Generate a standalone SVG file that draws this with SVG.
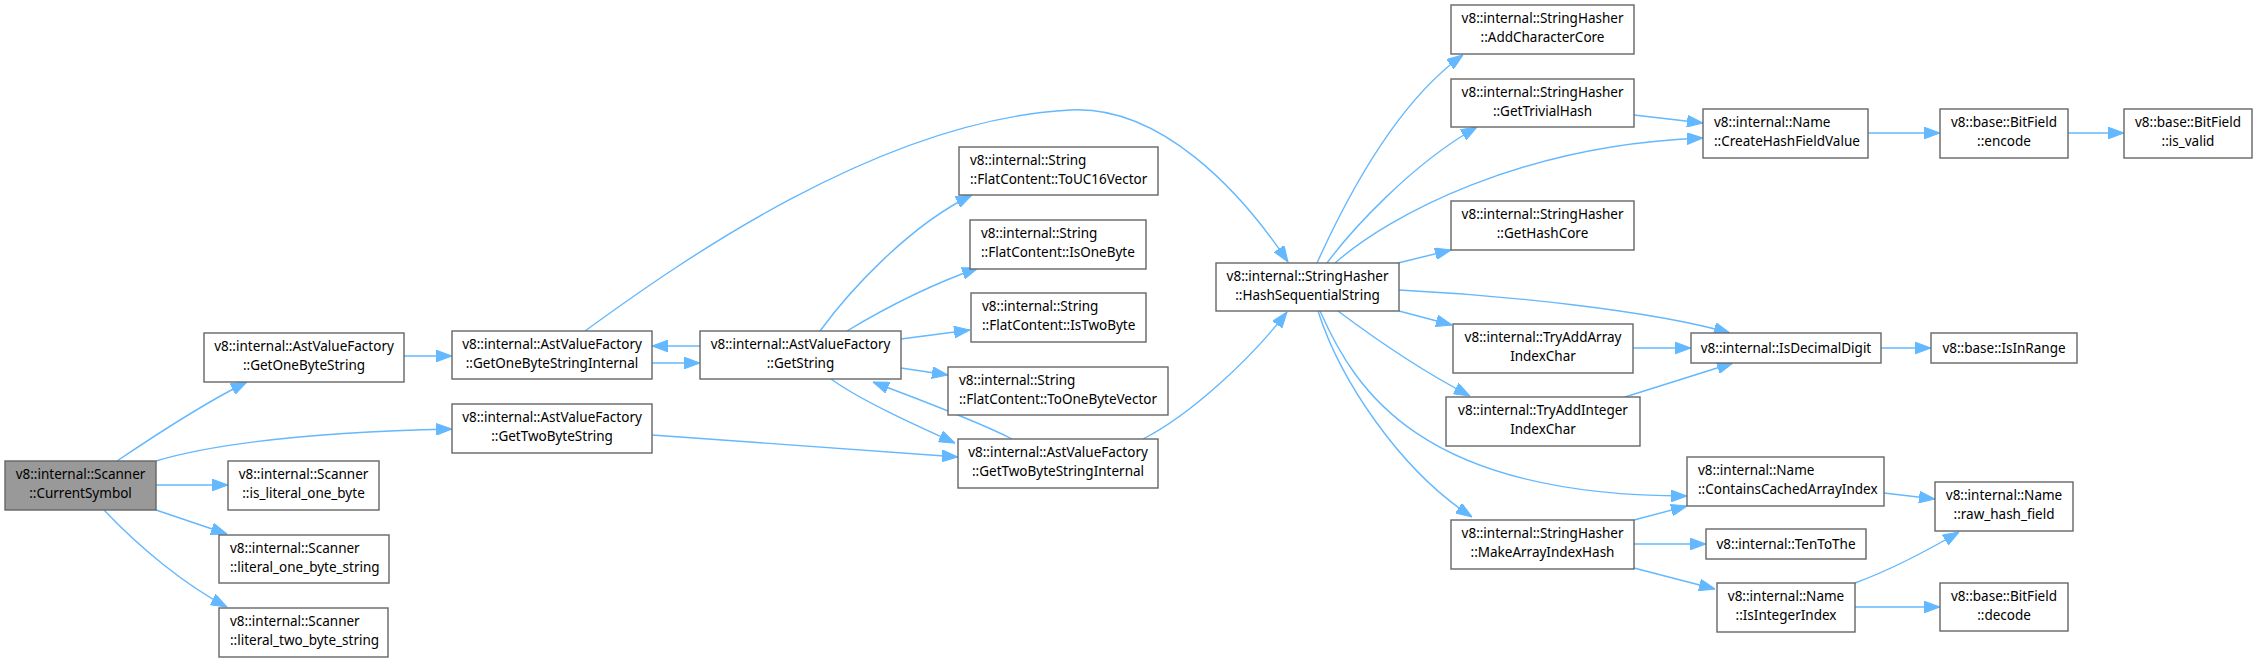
<svg xmlns="http://www.w3.org/2000/svg" width="2257" height="662" viewBox="0 0 2257 662">
<style>
.n rect{fill:#ffffff;stroke:#666666;stroke-width:1.4}
.root rect{fill:#999999;stroke:#666666;stroke-width:1.4}
text{font-family:"Noto Sans","Open Sans","DejaVu Sans",sans-serif;font-size:13.5px;fill:#000000}
.c{text-anchor:middle}
.l{text-anchor:start}
#edges path{fill:none;stroke:#63b8ff;stroke-width:1.4;marker-end:url(#ah)}
</style>
<defs>
<marker id="ah" markerUnits="userSpaceOnUse" markerWidth="16" markerHeight="12" viewBox="0 0 15 11" refX="15" refY="5.5" orient="auto">
<path d="M0,0 L15,5.5 L0,11 z" fill="#63b8ff" stroke="#63b8ff" stroke-width="1"/>
</marker>
</defs>
<rect width="2257" height="662" fill="#ffffff"/>
<g id="edges">
<path d="M117,461 C160,432 210,400 247,382"/>
<path d="M156,461 C220,442 320,432 452,429"/>
<path d="M156,485 L228,485"/>
<path d="M156,510 L227,534"/>
<path d="M104,510 C140,548 185,585 227,607"/>
<path d="M404,356 L452,356"/>
<path d="M652,363 L700,363"/>
<path d="M700,346 L652,346"/>
<path d="M820,331 C850,290 910,225 972,195"/>
<path d="M847,331 C890,305 930,285 978,268"/>
<path d="M901,339 L970,330"/>
<path d="M901,368 L948,375"/>
<path d="M831,379 C860,400 915,425 955,443"/>
<path d="M1012,439 C975,420 920,400 873,382"/>
<path d="M652,435 L958,457"/>
<path d="M1143,439 C1190,415 1250,360 1287,312"/>
<path d="M585,331 C680,262 880,120 1070,110 C1160,105 1240,190 1288,262"/>
<path d="M1317,263 C1350,190 1400,100 1463,55"/>
<path d="M1327,263 C1350,232 1410,165 1477,127"/>
<path d="M1335,263 C1390,215 1520,145 1703,138"/>
<path d="M1398,263 L1451,250"/>
<path d="M1634,115 L1703,123"/>
<path d="M1868,133 L1940,133"/>
<path d="M2068,133 L2124,133"/>
<path d="M1399,290 C1500,295 1650,310 1730,333"/>
<path d="M1399,311 L1452,325"/>
<path d="M1338,311 C1370,335 1420,370 1470,396"/>
<path d="M1320,311 C1355,390 1420,496 1687,496"/>
<path d="M1318,311 C1340,380 1400,470 1472,517"/>
<path d="M1633,348 L1691,348"/>
<path d="M1625,397 L1733,363"/>
<path d="M1634,520 L1687,506"/>
<path d="M1634,544 L1706,544"/>
<path d="M1634,568 L1715,589"/>
<path d="M1881,348 L1931,348"/>
<path d="M1884,493 L1935,499"/>
<path d="M1855,583 C1890,570 1925,552 1959,532"/>
<path d="M1855,607 L1940,607"/>
</g>
<g id="CurrentSymbol" class="root"><rect x="5" y="461" width="151" height="49"/><text class="c" x="80.5" y="479">v8::internal::Scanner</text><text class="c" x="80.5" y="498">::CurrentSymbol</text></g>
<g id="GetOneByteString" class="n"><rect x="204" y="333" width="200" height="49"/><text class="c" x="304" y="351">v8::internal::AstValueFactory</text><text class="c" x="304" y="370">::GetOneByteString</text></g>
<g id="GetTwoByteString" class="n"><rect x="452" y="404" width="200" height="49"/><text class="c" x="552" y="422">v8::internal::AstValueFactory</text><text class="c" x="552" y="441">::GetTwoByteString</text></g>
<g id="is_literal_one_byte" class="n"><rect x="228" y="461" width="151" height="49"/><text class="c" x="303.5" y="479">v8::internal::Scanner</text><text class="c" x="303.5" y="498">::is_literal_one_byte</text></g>
<g id="literal_one_byte_string" class="n"><rect x="219" y="535" width="170" height="48"/><text class="l" x="230" y="553">v8::internal::Scanner</text><text class="l" x="230" y="572">::literal_one_byte_string</text></g>
<g id="literal_two_byte_string" class="n"><rect x="219" y="608" width="169" height="49"/><text class="l" x="230" y="626">v8::internal::Scanner</text><text class="l" x="230" y="645">::literal_two_byte_string</text></g>
<g id="GetOneByteStringInternal" class="n"><rect x="452" y="331" width="200" height="48"/><text class="c" x="552" y="349">v8::internal::AstValueFactory</text><text class="c" x="552" y="368">::GetOneByteStringInternal</text></g>
<g id="GetString" class="n"><rect x="700" y="331" width="201" height="48"/><text class="c" x="800.5" y="349">v8::internal::AstValueFactory</text><text class="c" x="800.5" y="368">::GetString</text></g>
<g id="ToUC16Vector" class="n"><rect x="959" y="147" width="199" height="48"/><text class="l" x="970" y="165">v8::internal::String</text><text class="l" x="970" y="184">::FlatContent::ToUC16Vector</text></g>
<g id="IsOneByte" class="n"><rect x="970" y="220" width="176" height="49"/><text class="l" x="981" y="238">v8::internal::String</text><text class="l" x="981" y="257">::FlatContent::IsOneByte</text></g>
<g id="IsTwoByte" class="n"><rect x="971" y="293" width="175" height="49"/><text class="l" x="982" y="311">v8::internal::String</text><text class="l" x="982" y="330">::FlatContent::IsTwoByte</text></g>
<g id="ToOneByteVector" class="n"><rect x="948" y="367" width="220" height="48"/><text class="l" x="959" y="385">v8::internal::String</text><text class="l" x="959" y="404">::FlatContent::ToOneByteVector</text></g>
<g id="GetTwoByteStringInternal" class="n"><rect x="958" y="439" width="200" height="49"/><text class="c" x="1058" y="457">v8::internal::AstValueFactory</text><text class="c" x="1058" y="476">::GetTwoByteStringInternal</text></g>
<g id="HashSequentialString" class="n"><rect x="1216" y="263" width="183" height="48"/><text class="c" x="1307.5" y="281">v8::internal::StringHasher</text><text class="c" x="1307.5" y="300">::HashSequentialString</text></g>
<g id="AddCharacterCore" class="n"><rect x="1451" y="5" width="183" height="49"/><text class="c" x="1542.5" y="23">v8::internal::StringHasher</text><text class="c" x="1542.5" y="42">::AddCharacterCore</text></g>
<g id="GetTrivialHash" class="n"><rect x="1451" y="79" width="183" height="48"/><text class="c" x="1542.5" y="97">v8::internal::StringHasher</text><text class="c" x="1542.5" y="116">::GetTrivialHash</text></g>
<g id="CreateHashFieldValue" class="n"><rect x="1703" y="109" width="165" height="49"/><text class="l" x="1714" y="127">v8::internal::Name</text><text class="l" x="1714" y="146">::CreateHashFieldValue</text></g>
<g id="BitFieldEncode" class="n"><rect x="1940" y="109" width="128" height="49"/><text class="c" x="2004" y="127">v8::base::BitField</text><text class="c" x="2004" y="146">::encode</text></g>
<g id="BitFieldIsValid" class="n"><rect x="2124" y="109" width="128" height="49"/><text class="c" x="2188" y="127">v8::base::BitField</text><text class="c" x="2188" y="146">::is_valid</text></g>
<g id="GetHashCore" class="n"><rect x="1451" y="201" width="183" height="49"/><text class="c" x="1542.5" y="219">v8::internal::StringHasher</text><text class="c" x="1542.5" y="238">::GetHashCore</text></g>
<g id="TryAddArrayIndexChar" class="n"><rect x="1453" y="324" width="180" height="49"/><text class="c" x="1543" y="342">v8::internal::TryAddArray</text><text class="c" x="1543" y="361">IndexChar</text></g>
<g id="IsDecimalDigit" class="n"><rect x="1691" y="333" width="190" height="30"/><text class="c" x="1786" y="353">v8::internal::IsDecimalDigit</text></g>
<g id="IsInRange" class="n"><rect x="1931" y="333" width="146" height="30"/><text class="c" x="2004" y="353">v8::base::IsInRange</text></g>
<g id="TryAddIntegerIndexChar" class="n"><rect x="1446" y="397" width="194" height="49"/><text class="c" x="1543" y="415">v8::internal::TryAddInteger</text><text class="c" x="1543" y="434">IndexChar</text></g>
<g id="ContainsCachedArrayIndex" class="n"><rect x="1687" y="457" width="197" height="49"/><text class="l" x="1698" y="475">v8::internal::Name</text><text class="l" x="1698" y="494">::ContainsCachedArrayIndex</text></g>
<g id="raw_hash_field" class="n"><rect x="1935" y="482" width="138" height="49"/><text class="c" x="2004" y="500">v8::internal::Name</text><text class="c" x="2004" y="519">::raw_hash_field</text></g>
<g id="MakeArrayIndexHash" class="n"><rect x="1451" y="520" width="183" height="49"/><text class="c" x="1542.5" y="538">v8::internal::StringHasher</text><text class="c" x="1542.5" y="557">::MakeArrayIndexHash</text></g>
<g id="TenToThe" class="n"><rect x="1706" y="529" width="160" height="30"/><text class="c" x="1786" y="549">v8::internal::TenToThe</text></g>
<g id="IsIntegerIndex" class="n"><rect x="1717" y="583" width="138" height="49"/><text class="c" x="1786" y="601">v8::internal::Name</text><text class="c" x="1786" y="620">::IsIntegerIndex</text></g>
<g id="BitFieldDecode" class="n"><rect x="1940" y="583" width="128" height="48"/><text class="c" x="2004" y="601">v8::base::BitField</text><text class="c" x="2004" y="620">::decode</text></g>
</svg>
